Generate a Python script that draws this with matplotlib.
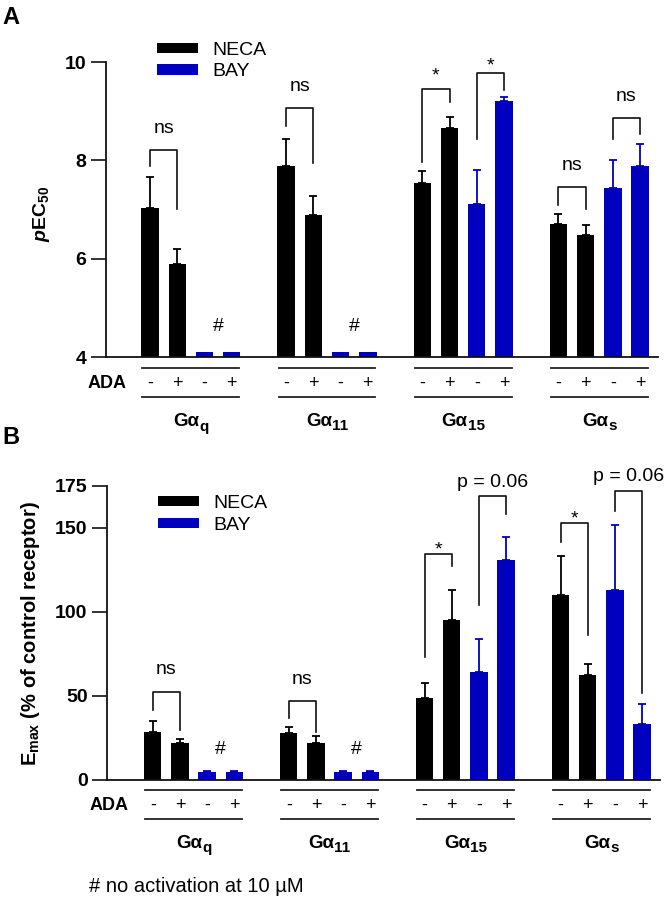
import matplotlib
matplotlib.use('Agg')
import matplotlib.pyplot as plt
from matplotlib.patches import Patch
from matplotlib.transforms import offset_copy

plt.rcParams['font.family'] = ['Liberation Sans', 'DejaVu Sans']
plt.rcParams['mathtext.fontset'] = 'custom'
plt.rcParams['mathtext.rm'] = 'Liberation Sans'
plt.rcParams['mathtext.bf'] = 'Liberation Sans:bold'
plt.rcParams['mathtext.it'] = 'Liberation Sans:bold:italic'

# ---------------- data ----------------
group_main = ['Gα', 'Gα', 'Gα', 'Gα']
group_sub = ['q', '11', '15', 's']
ada_signs = ['-', '+', '-', '+']
agonists = ['NECA', 'BAY']
bar_agonist = [0, 0, 1, 1]          # NECA, NECA, BAY, BAY within each group
colors = ['#000000', '#0000BE']

# order within group: NECA -ADA, NECA +ADA, BAY -ADA, BAY +ADA
pec50_mean = [[7.03, 5.89, 4.10, 4.10],
              [7.88, 6.88, 4.10, 4.10],
              [7.54, 8.65, 7.12, 9.21],
              [6.70, 6.48, 7.44, 7.89]]
pec50_err = [[0.63, 0.30, 0.0, 0.0],
             [0.56, 0.39, 0.0, 0.0],
             [0.25, 0.23, 0.69, 0.08],
             [0.20, 0.20, 0.56, 0.45]]

emax_mean = [[28.8, 21.8, 5.0, 5.0],
             [27.8, 21.8, 5.0, 5.0],
             [48.6, 95.2, 64.1, 131.0],
             [110.3, 62.7, 113.1, 33.1]]
emax_err = [[6.1, 2.4, 0.5, 0.5],
            [3.5, 4.4, 0.5, 0.5],
            [9.3, 17.9, 20.0, 13.2],
            [23.0, 6.3, 38.3, 11.9]]

# significance brackets: (group, bar1, bar2, top, left leg end, right leg end, label, label y)
brackets_A = [(0, 0, 1, 8.22, 7.88, 7.01, 'ns', 8.65),
              (1, 0, 1, 9.07, 8.69, 7.94, 'ns', 9.51),
              (2, 0, 1, 9.46, 7.97, 9.19, '*', 9.72),
              (2, 2, 3, 9.78, 8.44, 9.43, '*', 9.92),
              (3, 0, 1, 7.46, 7.10, 7.01, 'ns', 7.90),
              (3, 2, 3, 8.86, 8.43, 8.53, 'ns', 9.29)]
hash_A = [(0, 4.62), (1, 4.62)]

brackets_B = [(0, 0, 1, 52.6, 41.7, 29.8, 'ns', 65.5),
              (1, 0, 1, 47.2, 36.7, 28.8, 'ns', 59.9),
              (2, 0, 1, 134.1, 73.0, 127.4, '*', 137.0),
              (2, 2, 3, 168.6, 104.0, 158.2, 'p = 0.06', 177.0),
              (3, 0, 1, 152.6, 141.5, 86.3, '*', 155.5),
              (3, 2, 3, 172.0, 159.7, 51.6, 'p = 0.06', 180.2)]
hash_B = [(0, 18.3), (1, 18.3)]

footnote = '# no activation at 10 µM'

# ---------------- figure ----------------
W, H = 666, 898
fig = plt.figure(figsize=(W / 100, H / 100), dpi=100)
renderer = fig.canvas.get_renderer()


def px_axes(left, top, right, bottom):
    return fig.add_axes([left / W, 1 - bottom / H, (right - left) / W, (bottom - top) / H])


def group_label(ax, xc, y, main, sub):
    tr = ax.get_xaxis_transform()
    t1 = ax.text(xc, y, main, ha='left', va='baseline', fontsize=13.5,
                 fontweight='bold', transform=tr)
    t2 = ax.text(xc, y, sub, ha='left', va='baseline', fontsize=11,
                 fontweight='bold', transform=tr)
    w1 = t1.get_window_extent(renderer).width
    w2 = t2.get_window_extent(renderer).width
    gap = 0.0
    start = -(w1 + gap + w2) / 2
    t1.set_transform(offset_copy(tr, fig=fig, x=start, y=0, units='dots'))
    t2.set_transform(offset_copy(tr, fig=fig, x=start + w1 + gap, y=-4,
                                 units='dots'))


def draw_panel(ax, mean, err, base, ylim, yticks, brackets, hashes, xlim,
               y_line1, y_ada, y_line2, y_lab, ada_x):
    for g in range(len(group_main)):
        for j in range(4):
            x = 5 * g + j
            c = colors[bar_agonist[j]]
            ax.bar(x, mean[g][j] - base, bottom=base, width=0.64, color=c,
                   edgecolor='none', zorder=2)
            if err[g][j] > 0:
                ax.errorbar(x, mean[g][j], yerr=[[0], [err[g][j]]], fmt='none',
                            ecolor=c, elinewidth=1.3, capsize=3, capthick=1.3,
                            zorder=2)
    for (g, j1, j2, top, yl, yr, lab, ly) in brackets:
        x1, x2 = 5 * g + j1, 5 * g + j2
        ax.plot([x1, x1, x2, x2], [yl, top, top, yr], color='#111111', lw=1.2,
                clip_on=False, zorder=3)
        ax.text((x1 + x2) / 2, ly, lab, ha='center', va='center', fontsize=14,
                clip_on=False)
    for (g, y) in hashes:
        ax.text(5 * g + 2.5, y, '#', ha='center', va='center', fontsize=14)

    ax.set_xlim(*xlim)
    ax.set_ylim(*ylim)
    ax.set_yticks(yticks)
    ax.set_xticks([])
    for s in ['top', 'right']:
        ax.spines[s].set_visible(False)
    for s in ['left', 'bottom']:
        ax.spines[s].set_linewidth(1.3)
        ax.spines[s].set_color('#111111')
    ax.tick_params(axis='y', length=11, width=1.2, pad=3, labelsize=14,
                   color='#111111')
    for t in ax.get_yticklabels():
        t.set_fontweight('bold')

    tr = ax.get_xaxis_transform()
    for g in range(len(group_main)):
        c = 5 * g + 1.5
        for yy in (y_line1, y_line2):
            ax.plot([c - 1.78, c + 1.78], [yy, yy], color='#222222', lw=1.3,
                    transform=tr, clip_on=False)
        for j in range(4):
            ax.text(5 * g + j, y_ada, ada_signs[j], ha='center', va='center',
                    fontsize=13, transform=tr)
        group_label(ax, c, y_lab, group_main[g], group_sub[g])
    ax.text(ada_x, y_ada, 'ADA', ha='right', va='center', fontsize=13,
            fontweight='bold', transform=tr)

    handles = [Patch(facecolor=colors[i], edgecolor='none', label=agonists[i])
               for i in range(2)]
    return handles


# Panel A
axA = px_axes(106, 62, 658, 357)
hA = draw_panel(axA, pec50_mean, pec50_err, 4, (4, 10), [4, 6, 8, 10],
                brackets_A, hash_A, (-1.62, 18.66),
                -10.7 / 295, -26.3 / 295, -39.7 / 295, -69.5 / 295, -0.85)
axA.legend(handles=hA, loc='upper left', bbox_to_anchor=(157 / W, 1 - 42 / H),
           bbox_transform=fig.transFigure, frameon=False, borderpad=0,
           borderaxespad=0, handlelength=2.1, handleheight=0.42,
           handletextpad=0.75, labelspacing=0.23, fontsize=14)
fig.text(42 / W, 1 - 214 / H, r'$\mathit{p}\mathbf{EC}_{\mathbf{50}}$',
         rotation=90, ha='center', va='center', fontsize=14)

# Panel B
axB = px_axes(107, 485.7, 660, 780)
hB = draw_panel(axB, emax_mean, emax_err, 0, (0, 175), [0, 50, 100, 150, 175],
                brackets_B, hash_B, (-1.685, 18.66),
                -10 / 294.3, -25.7 / 294.3, -38.5 / 294.3, -68 / 294.3, -0.88)
axB.legend(handles=hB, loc='upper left', bbox_to_anchor=(158 / W, 1 - 495 / H),
           bbox_transform=fig.transFigure, frameon=False, borderpad=0,
           borderaxespad=0, handlelength=2.1, handleheight=0.42,
           handletextpad=0.75, labelspacing=0.26, fontsize=14)
fig.text(31 / W, 1 - 634 / H, r'E$_{\mathbf{max}}$ (% of control receptor)',
         rotation=90, ha='center', va='center', fontsize=14.5, fontweight='bold')

# panel letters and footnote
fig.text(2 / W, 1 - 17 / H, 'A', ha='left', va='center', fontsize=17,
         fontweight='bold')
fig.text(2 / W, 1 - 437 / H, 'B', ha='left', va='center', fontsize=17,
         fontweight='bold')
fig.text(89 / W, 1 - 887 / H, footnote, ha='left', va='center', fontsize=14.5)

fig.savefig('out.png', dpi=100)
